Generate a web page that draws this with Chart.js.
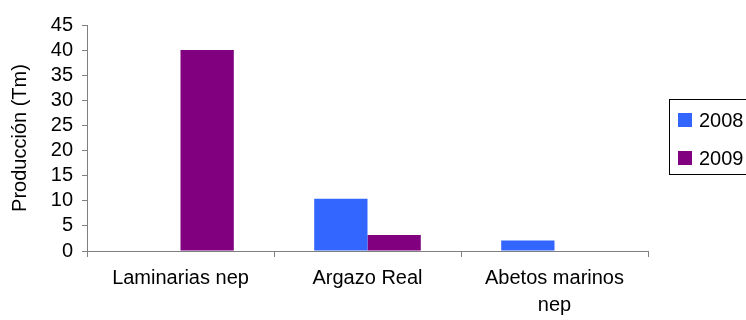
<!DOCTYPE html>
<html>
<head>
<meta charset="utf-8">
<script src="https://cdn.jsdelivr.net/npm/chart.js@4"></script>
<style>
  html, body { margin: 0; padding: 0; background: #fff; }
  #wrap { width: 746px; height: 320px; position: relative; }
</style>
</head>
<body>
<div id="wrap"><canvas id="chart" width="746" height="320"></canvas></div>
<script>
const categories = ['Laminarias nep', 'Argazo Real', ['Abetos marinos', 'nep']];
const seriesLabels = ['2008', '2009'];
const values2008 = [null, 10.4, 2.1];
const values2009 = [40, 3.2, null];
const seriesColours = ['#3366ff', '#800080'];
const yMax = 45;
const yStep = 5;

const fontFamily = "'Liberation Sans', Arial, sans-serif";

// legend drawn by hand: boxed, on the right, clipped by the canvas edge
const boxedLegendPlugin = {
  id: 'boxedLegend',
  afterDraw(chart) {
    const { ctx } = chart;
    ctx.save();
    ctx.strokeStyle = '#000';
    ctx.lineWidth = 1;
    ctx.strokeRect(669.5, 99.5, 200, 75);
    ctx.font = `20px ${fontFamily}`;
    ctx.textBaseline = 'middle';
    chart.data.datasets.forEach((ds, i) => {
      const cy = 120 + i * 38;
      ctx.fillStyle = ds.backgroundColor;
      ctx.fillRect(678, cy - 7, 14, 14);
      ctx.fillStyle = '#000';
      ctx.fillText(ds.label, 699, cy + 1);
    });
    ctx.restore();
  },
};

new Chart(document.getElementById('chart'), {
  type: 'bar',
  data: {
    labels: categories,
    datasets: [
      { label: seriesLabels[0], data: values2008, backgroundColor: seriesColours[0] },
      { label: seriesLabels[1], data: values2009, backgroundColor: seriesColours[1] },
    ],
  },
  plugins: [boxedLegendPlugin],
  options: {
    responsive: false,
    animation: false,
    layout: { padding: { top: 25, right: 98, left: 0, bottom: 0 } },
    datasets: {
      bar: { categoryPercentage: 0.57, barPercentage: 1, borderWidth: 0 },
    },
    plugins: {
      legend: { display: false },
      tooltip: { enabled: false },
    },
    scales: {
      x: {
        grid: { drawOnChartArea: false, color: '#808080', tickLength: 6, offset: true },
        border: { color: '#808080', width: 1 },
        ticks: {
          color: '#000',
          font: { family: fontFamily, size: 20, lineHeight: 1.35 },
          padding: 8,
          maxRotation: 0,
          autoSkip: false,
        },
        afterFit(scale) { scale.height = 69; },
      },
      y: {
        min: 0,
        max: yMax,
        grid: { drawOnChartArea: false, color: '#808080', tickLength: 5 },
        border: { color: '#808080', width: 1 },
        ticks: {
          stepSize: yStep,
          autoSkip: false,
          color: '#000',
          font: { family: fontFamily, size: 20 },
          padding: 9,
        },
        title: {
          display: true,
          text: 'Producción (Tm)',
          color: '#000',
          font: { family: fontFamily, size: 20 },
          padding: { top: 8, bottom: 0 },
        },
        afterFit(scale) { scale.width = 87; },
      },
    },
  },
});
</script>
</body>
</html>
